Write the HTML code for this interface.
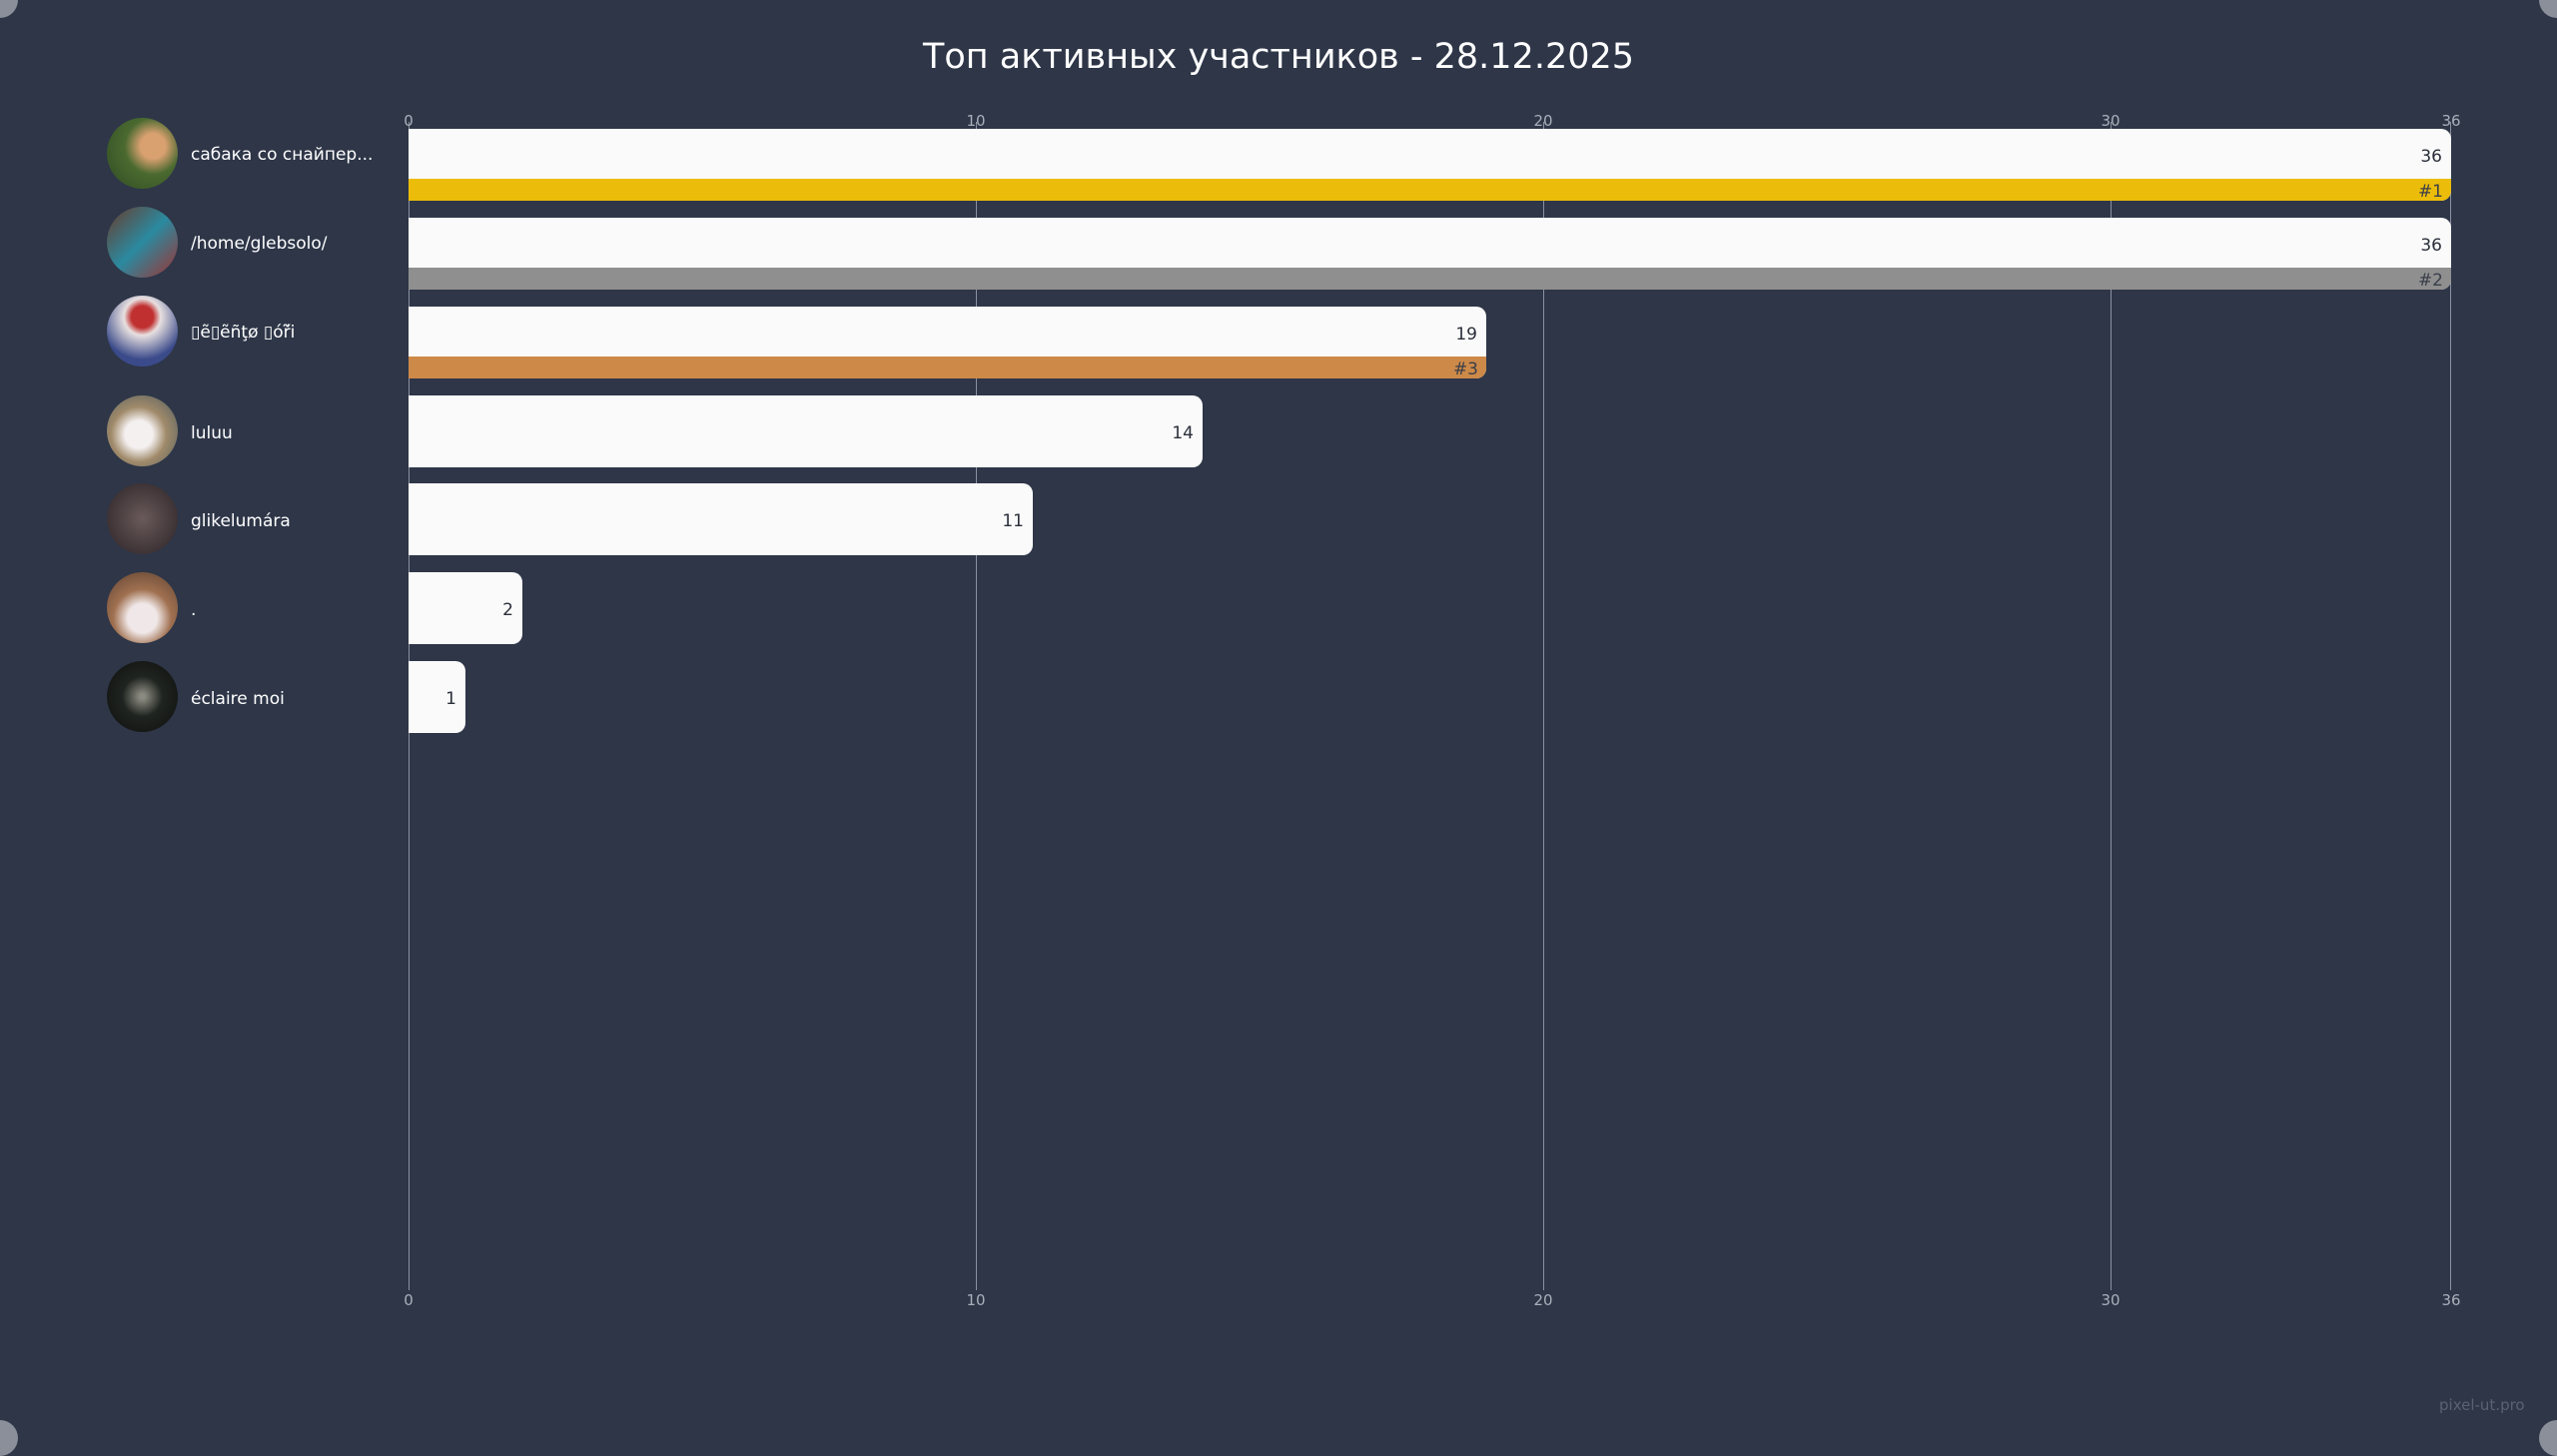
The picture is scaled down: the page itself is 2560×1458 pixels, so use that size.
<!DOCTYPE html>
<html><head><meta charset="utf-8"><style>
body{margin:0;width:2560px;height:1440px;background:#2e3648;position:relative;overflow:hidden;font-family:"DejaVu Sans","Liberation Sans",sans-serif;}
.abs{position:absolute}
.title{left:0;width:2560px;top:37px;text-align:center;color:#fff;font-size:35px;}
.grid{top:122px;height:1170px;width:1px;background:#8a91a0}
.tick{color:#a9afba;font-size:15px;width:80px;text-align:center;margin-left:-40px}
.bar{left:409px;border-radius:0 10px 10px 0;overflow:hidden;background:#fafafa}
.rank{position:absolute;left:0;right:0;bottom:0;height:22px;font-size:17px;color:#3a3f4a;text-align:right;padding-right:8px;box-sizing:border-box;line-height:26px}
.val{position:absolute;right:9px;font-size:17px;color:#2a2f3a}
.av{left:107px;width:71px;height:71px;border-radius:50%}
.name{left:191px;color:#fff;font-size:17px}
.corner{width:36px;height:36px;border-radius:50%;background:#8a8f9a}
</style></head><body>
<div class="abs corner" style="left:-18px;top:-18px"></div>
<div class="abs corner" style="right:-18px;top:-18px"></div>
<div class="abs corner" style="left:-18px;bottom:-18px"></div>
<div class="abs corner" style="right:-18px;bottom:-18px"></div>
<div class="abs title">Топ активных участников - 28.12.2025</div>

<div class="abs grid" style="left:409px"></div>
<div class="abs grid" style="left:977px"></div>
<div class="abs grid" style="left:1545px"></div>
<div class="abs grid" style="left:2113px"></div>
<div class="abs grid" style="left:2453px"></div>

<div class="abs tick" style="left:409px;top:112px">0</div>
<div class="abs tick" style="left:977px;top:112px">10</div>
<div class="abs tick" style="left:1545px;top:112px">20</div>
<div class="abs tick" style="left:2113px;top:112px">30</div>
<div class="abs tick" style="left:2454px;top:112px">36</div>
<div class="abs tick" style="left:409px;top:1293px">0</div>
<div class="abs tick" style="left:977px;top:1293px">10</div>
<div class="abs tick" style="left:1545px;top:1293px">20</div>
<div class="abs tick" style="left:2113px;top:1293px">30</div>
<div class="abs tick" style="left:2454px;top:1293px">36</div>

<div class="abs bar" style="top:129px;width:2045px;height:72px"><div class="val" style="top:18px">36</div><div class="rank" style="background:#ebbd0a">#1</div></div>
<div class="abs bar" style="top:218px;width:2045px;height:72px"><div class="val" style="top:18px">36</div><div class="rank" style="background:#8f8f8f">#2</div></div>
<div class="abs bar" style="top:307px;width:1079px;height:72px"><div class="val" style="top:18px">19</div><div class="rank" style="background:#cd8948">#3</div></div>
<div class="abs bar" style="top:396px;width:795px;height:72px"><div class="val" style="top:28px">14</div></div>
<div class="abs bar" style="top:484px;width:625px;height:72px"><div class="val" style="top:28px">11</div></div>
<div class="abs bar" style="top:573px;width:114px;height:72px"><div class="val" style="top:28px">2</div></div>
<div class="abs bar" style="top:662px;width:57px;height:72px"><div class="val" style="top:28px">1</div></div>

<div class="abs av" style="top:118px;background:radial-gradient(circle at 65% 40%,#d9a070 0 20%,#4a6a30 45%,#2f4a22)"></div>
<div class="abs av" style="top:207px;background:linear-gradient(135deg,#6a3a2a,#2a8aa0 50%,#a03030)"></div>
<div class="abs av" style="top:296px;background:radial-gradient(circle at 50% 30%,#c03030 0 18%,#e8e0e0 30%,#3a4a8a 70%)"></div>
<div class="abs av" style="top:396px;background:radial-gradient(circle at 45% 55%,#f4f0f0 0 25%,#a08a6a 50%,#4a5a60)"></div>
<div class="abs av" style="top:484px;background:radial-gradient(circle,#6a5a5a,#2a2226)"></div>
<div class="abs av" style="top:573px;background:radial-gradient(circle at 50% 65%,#f0e8e8 0 25%,#a07050 50%,#5a4030)"></div>
<div class="abs av" style="top:662px;background:radial-gradient(circle at 50% 50%,#8a8a80 0 5%,#202420 40%,#0c0e0c)"></div>

<div class="abs name" style="top:145px">сабака со снайпер...</div>
<div class="abs name" style="top:234px">/home/glebsolo/</div>
<div class="abs name" style="top:323px">▯ẽ▯ẽñţø ▯óř̃i</div>
<div class="abs name" style="top:424px">luluu</div>
<div class="abs name" style="top:512px">glikelumára</div>
<div class="abs name" style="top:601px">.</div>
<div class="abs name" style="top:690px">éclaire moi</div>

<div class="abs" style="left:2442px;top:1398px;color:#5a6272;font-size:15px">pixel-ut.pro</div>
</body></html>
